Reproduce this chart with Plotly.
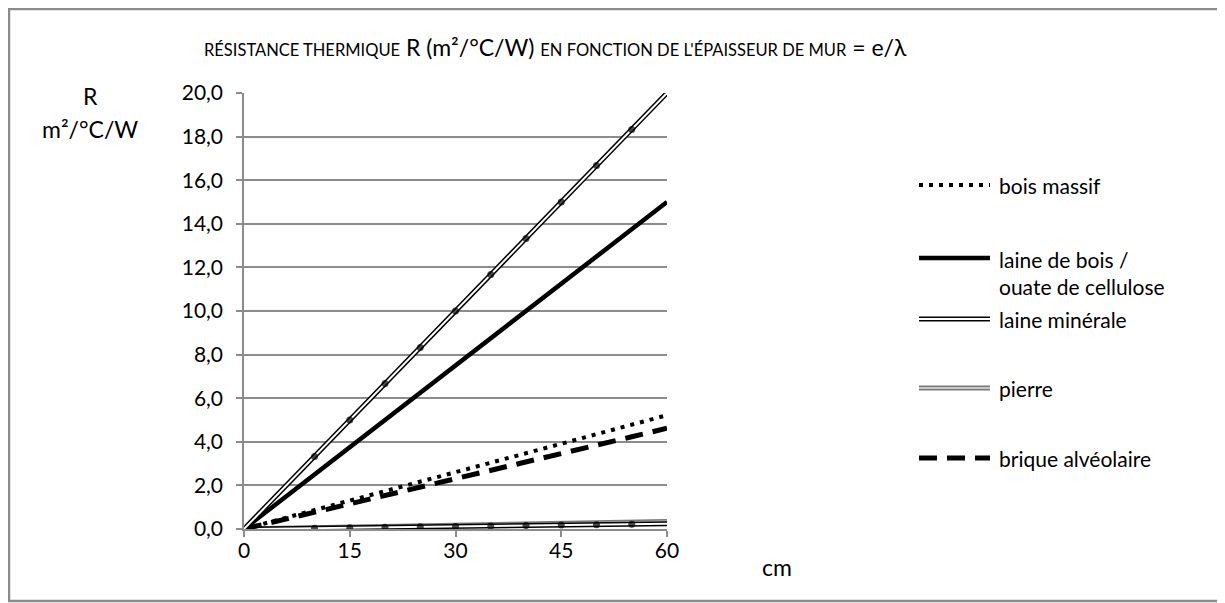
import plotly.graph_objects as go

# ---- data ----
epaisseur_cm = [0, 5, 10, 15, 20, 25, 30, 35, 40, 45, 50, 55, 60]
bois_massif = [0, 0.43, 0.87, 1.30, 1.74, 2.17, 2.61, 3.04, 3.48, 3.91, 4.35, 4.78, 5.22]
laine_bois = [0, 1.25, 2.50, 3.75, 5.00, 6.25, 7.50, 8.75, 10.00, 11.25, 12.50, 13.75, 15.00]
laine_minerale = [0, 1.67, 3.33, 5.00, 6.67, 8.33, 10.00, 11.67, 13.33, 15.00, 16.67, 18.33, 20.00]
pierre = [0, 0.03, 0.06, 0.09, 0.11, 0.14, 0.17, 0.20, 0.23, 0.26, 0.29, 0.31, 0.34]
serie_6 = [0, 0.02, 0.04, 0.06, 0.08, 0.10, 0.12, 0.14, 0.16, 0.18, 0.20, 0.22, 0.24]
brique = [0, 0.38, 0.77, 1.15, 1.54, 1.92, 2.31, 2.69, 3.08, 3.46, 3.85, 4.23, 4.62]

x_ticks = [0, 15, 30, 45, 60]
y_ticks = [0, 2, 4, 6, 8, 10, 12, 14, 16, 18, 20]

legend_labels = ["bois massif", "laine de bois /<br>ouate de cellulose", "laine minérale", "pierre", "brique alvéolaire"]

FONT = "Lato"
W, H = 1225, 603
OFF = 8  # page body margin
# plot area in screen pixels
L, R_, T, B = 244, 667, 93, 529


def px(p):
    return (p - L) / (R_ - L)


def py(q):
    return (B - q) / (B - T)


marker_sizes = [0, 0, 7, 7, 7, 7, 7, 7, 7, 7, 7, 7, 0]

fig = go.Figure()
# pierre (grey double line)
fig.add_trace(go.Scatter(x=epaisseur_cm, y=pierre, mode="lines", line=dict(color="#7a7a7a", width=5), hoverinfo="skip"))
fig.add_trace(go.Scatter(x=epaisseur_cm, y=pierre, mode="lines", line=dict(color="#c8c8c8", width=2), name="pierre"))
# serie 6 (black double line with markers)
fig.add_trace(go.Scatter(x=epaisseur_cm, y=serie_6, mode="lines", line=dict(color="black", width=5), hoverinfo="skip"))
fig.add_trace(go.Scatter(x=epaisseur_cm, y=serie_6, mode="lines", line=dict(color="white", width=2), hoverinfo="skip"))
fig.add_trace(go.Scatter(x=epaisseur_cm, y=serie_6, mode="markers",
                         marker=dict(color="black", size=marker_sizes, line=dict(width=0))))
# bois massif
fig.add_trace(go.Scatter(x=epaisseur_cm, y=bois_massif, mode="lines", line=dict(color="black", width=4, dash="4px,6px"), name="bois massif"))
# brique
fig.add_trace(go.Scatter(x=epaisseur_cm, y=brique, mode="lines", line=dict(color="black", width=5, dash="18px,10px"), name="brique alvéolaire"))
# laine de bois
fig.add_trace(go.Scatter(x=epaisseur_cm, y=laine_bois, mode="lines", line=dict(color="black", width=4.5), name="laine de bois"))
# laine minérale (double)
fig.add_trace(go.Scatter(x=epaisseur_cm, y=laine_minerale, mode="lines", line=dict(color="black", width=5), hoverinfo="skip"))
fig.add_trace(go.Scatter(x=epaisseur_cm, y=laine_minerale, mode="lines", line=dict(color="white", width=2), name="laine minérale"))
fig.add_trace(go.Scatter(x=epaisseur_cm, y=laine_minerale, mode="markers",
                         marker=dict(color="black", size=marker_sizes, line=dict(width=0)), hoverinfo="skip"))

shapes = []
annotations = []

# outer border
shapes.append(dict(type="rect", xref="paper", yref="paper", x0=px(9), x1=px(1240), y0=py(9), y1=py(601),
                   line=dict(color="#8c8c8c", width=2.5), layer="below"))

# manual legend
lx0, lx1, ltx = 919, 990, 997
ly = [185, 258, 319, 388, 458]
ty = [185, 273, 319, 388, 458]
styles = [
    [dict(color="black", width=4, dash="4px,6px")],
    [dict(color="black", width=4.5)],
    [dict(color="black", width=5), dict(color="white", width=2)],
    [dict(color="#7a7a7a", width=5), dict(color="#c8c8c8", width=2)],
    [dict(color="black", width=5, dash="18px,10px")],
]
for i, lab in enumerate(legend_labels):
    for st in styles[i]:
        shapes.append(dict(type="line", xref="paper", yref="paper", x0=px(lx0), x1=px(lx1),
                           y0=py(ly[i]), y1=py(ly[i]), line=st))
    annotations.append(dict(text=lab, xref="paper", yref="paper", x=px(ltx), y=py(ty[i]),
                            xanchor="left", yanchor="middle", showarrow=False, align="left",
                            font=dict(family=FONT, size=21, color="black")))

# title
annotations.append(dict(
    text="<span style='font-size:16.5px'>RÉSISTANCE THERMIQUE</span> R (m²/°C/W) "
         "<span style='font-size:16.5px'>EN FONCTION DE L'ÉPAISSEUR DE MUR</span> = e/λ",
    xref="paper", yref="paper", x=px(555), y=py(47), xanchor="center", yanchor="middle",
    showarrow=False, font=dict(family=FONT, size=23, color="black")))
# axis labels
annotations.append(dict(text="R", xref="paper", yref="paper", x=px(90), y=py(96), xanchor="center",
                        yanchor="middle", showarrow=False, font=dict(family=FONT, size=23, color="black")))
annotations.append(dict(text="m²/°C/W", xref="paper", yref="paper", x=px(90), y=py(129), xanchor="center",
                        yanchor="middle", showarrow=False, font=dict(family=FONT, size=23, color="black")))
annotations.append(dict(text="cm", xref="paper", yref="paper", x=px(777), y=py(567), xanchor="center",
                        yanchor="middle", showarrow=False, font=dict(family=FONT, size=23, color="black")))

fig.update_layout(
    width=W, height=H,
    margin=dict(l=L - OFF, r=W - R_ + OFF, t=T - OFF, b=H - B + OFF, pad=0),
    paper_bgcolor="white", plot_bgcolor="white",
    showlegend=False,
    separators=", ",
    font=dict(family=FONT, size=21, color="black"),
    shapes=shapes, annotations=annotations,
    xaxis=dict(range=[0, 60], tickvals=x_ticks, ticktext=[str(v) for v in x_ticks],
               showgrid=False, zeroline=False, showline=True, linecolor="#8c8c8c", linewidth=1.5,
               ticks="outside", ticklen=6, tickcolor="#8c8c8c", tickwidth=1.5,
               tickfont=dict(family=FONT, size=21), ticklabelstandoff=-4, fixedrange=True),
    yaxis=dict(range=[0, 20], tickvals=y_ticks, tickformat=".1f",
               showgrid=True, gridcolor="#8c8c8c", gridwidth=1.5, zeroline=False,
               showline=True, linecolor="#8c8c8c", linewidth=1.5,
               ticks="outside", ticklen=6, tickcolor="#8c8c8c", tickwidth=1.5,
               tickfont=dict(family=FONT, size=21), ticklabelstandoff=9, fixedrange=True),
)

fig.write_html("out.html")
